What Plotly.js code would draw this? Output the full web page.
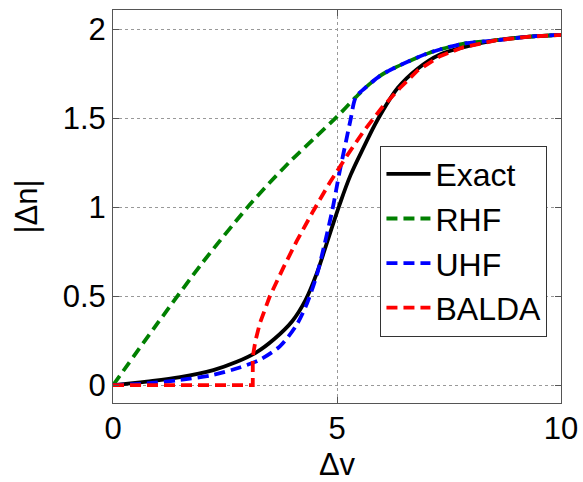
<!DOCTYPE html>
<html>
<head>
<meta charset="utf-8">
<script src="https://cdn.plot.ly/plotly-3.0.1.min.js"></script>
<style>html,body{margin:0;padding:0;background:#fff;}#chart{width:583px;height:482px;}</style>
</head>
<body>
<div id="chart"></div>
<script>
// Data
const exactX = [0, 0.75, 1.5, 2.24, 2.75, 3.2, 3.6, 4.0, 4.3, 4.55, 4.8, 5.05, 5.3, 5.6, 5.9, 6.35, 6.8, 7.3, 7.81, 8.56, 9.30, 10];
const exactY = [0, 0.02, 0.045, 0.085, 0.13, 0.185, 0.26, 0.36, 0.48, 0.63, 0.82, 1.01, 1.18, 1.34, 1.49, 1.67, 1.78, 1.86, 1.90, 1.94, 1.96, 1.97];

const rhfX = [0, 1, 2, 3, 3.5, 4, 4.5, 5, 5.42, 5.62, 5.96, 6.33, 7.07, 7.81, 8.56, 9.30, 10];
const rhfY = [0, 0.35, 0.69, 1.00, 1.14, 1.27, 1.39, 1.51, 1.62, 1.67, 1.74, 1.79, 1.87, 1.92, 1.94, 1.96, 1.97];

const uhfX = [0, 0.75, 1.5, 2.24, 2.83, 3.29, 3.73, 4.10, 4.33, 4.55, 4.71, 4.90, 5.05, 5.20, 5.30, 5.42, 5.62, 5.96, 6.33, 7.07, 7.81, 8.56, 9.30, 10];
const uhfY = [0, 0.01, 0.03, 0.058, 0.10, 0.145, 0.22, 0.34, 0.46, 0.62, 0.78, 0.99, 1.19, 1.37, 1.49, 1.62, 1.67, 1.74, 1.79, 1.87, 1.92, 1.94, 1.96, 1.97];

const baldaX = [0, 3.12, 3.12, 3.18, 3.28, 3.5, 3.8, 4.1, 4.47, 4.84, 5.22, 5.6, 6.0, 6.4, 6.8, 7.3, 7.81, 8.56, 9.30, 10];
const baldaY = [0, 0, 0.16, 0.25, 0.35, 0.50, 0.66, 0.81, 0.98, 1.14, 1.29, 1.43, 1.56, 1.67, 1.77, 1.85, 1.90, 1.94, 1.96, 1.97];

const seriesNames = ["Exact", "RHF", "UHF", "BALDA"];
const xTicks = [0, 5, 10];
const yTicks = [0, 0.5, 1, 1.5, 2];

const FONT = "Arial, 'Liberation Sans', sans-serif";
const dashPat = "11px,6px";

const traces = [
  {x: exactX, y: exactY, name: seriesNames[0], mode: "lines", line: {color: "#000000", width: 3.8, shape: "spline", smoothing: 1}},
  {x: rhfX, y: rhfY, name: seriesNames[1], mode: "lines", line: {color: "#008000", width: 3.8, dash: dashPat, shape: "spline", smoothing: 0.8}},
  {x: uhfX, y: uhfY, name: seriesNames[2], mode: "lines", line: {color: "#0000ff", width: 3.8, dash: dashPat, shape: "spline", smoothing: 0.8}},
  {x: baldaX, y: baldaY, name: seriesNames[3], mode: "lines", line: {color: "#ff0000", width: 3.8, dash: dashPat}}
];

const axisCommon = {
  showline: true, linecolor: "#555", linewidth: 1, mirror: "ticks",
  ticks: "inside", ticklen: 6, tickcolor: "#555", tickwidth: 1,
  showgrid: true, gridcolor: "#999", griddash: "dot", gridwidth: 1,
  zeroline: false,
  tickfont: {family: FONT, size: 31, color: "#000"}
};

const layout = {
  width: 583, height: 482,
  margin: {l: 112.5, r: 22, t: 9.5, b: 79},
  paper_bgcolor: "#fff", plot_bgcolor: "#fff",
  showlegend: true,
  legend: {
    x: 0.597, y: 0.655, xanchor: "left", yanchor: "top",
    bgcolor: "#fff", bordercolor: "#333", borderwidth: 1,
    font: {family: FONT, size: 32, color: "#000"},
    itemwidth: 44, tracegroupgap: 0
  },
  xaxis: Object.assign({}, axisCommon, {
    range: [0, 10], tickvals: xTicks, ticktext: xTicks.map(String),
    ticklabelstandoff: -2,
    title: {text: "Δv", font: {family: FONT, size: 31, color: "#000"}, standoff: 9}
  }),
  yaxis: Object.assign({}, axisCommon, {
    range: [-0.1, 2.11], tickvals: yTicks, ticktext: yTicks.map(String),
    ticklabelstandoff: 0,
    title: {text: "|Δn|", font: {family: FONT, size: 31, color: "#000"}, standoff: 15}
  })
};

Plotly.newPlot("chart", traces, layout, {staticPlot: true, displayModeBar: false});
</script>
</body>
</html>
